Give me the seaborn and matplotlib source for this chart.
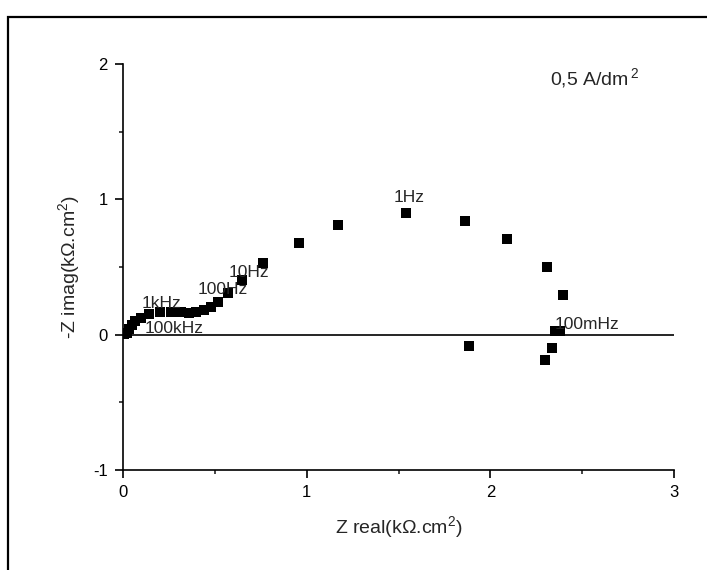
import matplotlib
matplotlib.use("Agg")
import matplotlib.pyplot as plt
import seaborn as sns
import pandas as pd
from matplotlib.patches import Rectangle

# Nyquist data (kOhm.cm2)
z_real = [0.008, 0.022, 0.033, 0.049, 0.065, 0.098, 0.142, 0.202, 0.262, 0.316,
          0.360, 0.398, 0.442, 0.480, 0.518, 0.573, 0.649, 0.764, 0.960, 1.169,
          1.542, 1.860, 2.091, 2.308, 2.397, 2.379, 2.351, 1.884, 2.335, 2.300]
z_imag = [0.004, 0.015, 0.044, 0.074, 0.104, 0.126, 0.156, 0.170, 0.170, 0.170,
          0.163, 0.170, 0.185, 0.207, 0.244, 0.311, 0.407, 0.528, 0.680, 0.810,
          0.899, 0.842, 0.709, 0.501, 0.294, 0.030, 0.024, -0.087, -0.096, -0.187]

freq_labels = ["100kHz", "1kHz", "100Hz", "10Hz", "1Hz", "100mHz"]
freq_x = [0.115, 0.104, 0.404, 0.573, 1.473, 2.351]
freq_y = [0.044, 0.230, 0.333, 0.459, 1.015, 0.074]

df = pd.DataFrame({"zr": z_real, "zi": z_imag})

sns.set_style("ticks")
plt.rcParams["font.family"] = ["Liberation Sans", "DejaVu Sans"]
plt.rcParams["axes.unicode_minus"] = False
plt.rcParams["mathtext.fontset"] = "custom"
plt.rcParams["mathtext.rm"] = "Liberation Sans"
plt.rcParams["mathtext.it"] = "Liberation Sans"

fig = plt.figure(figsize=(7.07, 5.70), dpi=100)
ax = fig.add_axes([0.1740, 0.1754, 0.7793, 0.7123])

sns.scatterplot(data=df, x="zr", y="zi", marker="s", color="black",
                s=42, edgecolor="black", linewidth=0, ax=ax, zorder=3)

ax.axhline(0, color="black", lw=1.2, zorder=2)

for lab, lx, ly in zip(freq_labels, freq_x, freq_y):
    ax.text(lx, ly, lab, fontsize=12.5, ha="left", va="center", zorder=4)

ax.text(2.324, 1.896, r"0,5 A/dm$\mathregular{^{\,2}}$", fontsize=14, ha="left", va="center")

ax.set_xlim(0, 3)
ax.set_ylim(-1, 2)
ax.set_xticks([0, 1, 2, 3])
ax.set_yticks([-1, 0, 1, 2])
ax.set_xticks([0.5, 1.5, 2.5], minor=True)
ax.set_yticks([-0.5, 0.5, 1.5], minor=True)
ax.tick_params(which="major", direction="out", length=6, width=1.2, labelsize=12,
               colors="black", pad=5)
ax.tick_params(which="minor", direction="out", length=3, width=1.2)

sns.despine(ax=ax)
for s in ["left", "bottom"]:
    ax.spines[s].set_linewidth(1.2)
    ax.spines[s].set_color("black")

ax.set_xlabel(r"Z real(kΩ.cm$\mathregular{^{2}}$)", fontsize=14, labelpad=10)
ax.set_ylabel(r"-Z imag(kΩ.cm$\mathregular{^{2}}$)", fontsize=14, labelpad=8)

# outer frame, open at right and bottom (clipped by the image edge)
fig.add_artist(Rectangle((8 / 707, -0.2), 1.5, 1.2 - 17 / 570,
                         transform=fig.transFigure, fill=False,
                         edgecolor="black", linewidth=1.6))

fig.savefig("out.png", dpi=100, facecolor="white")
